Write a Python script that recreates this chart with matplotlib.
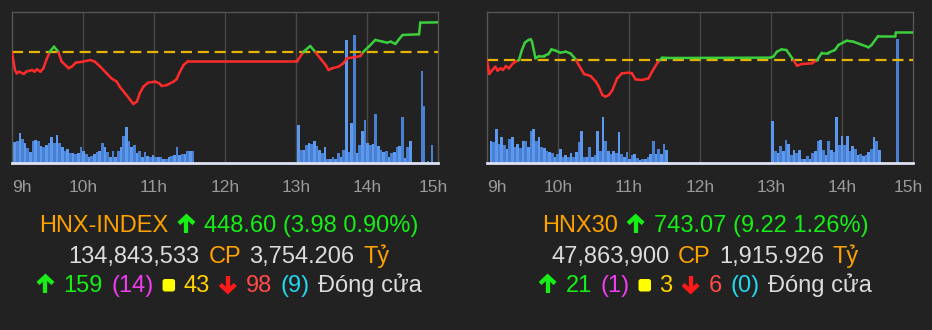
import numpy as np
import matplotlib
matplotlib.use('Agg')
import matplotlib.pyplot as plt
import matplotlib.transforms as mtrans
from matplotlib.collections import LineCollection
from matplotlib.lines import Line2D
from matplotlib.patches import FancyBboxPatch

plt.rcParams['font.family'] = ['Liberation Sans', 'DejaVu Sans']

BG = '#222222'
GREEN_LINE = '#3ccf3c'
RED_LINE = '#ff2b2b'
BAR1 = '#5c98ee'
BAR2 = '#4a80d2'
ORANGE = '#ffa200'
GREEN = '#16ee16'
GRAYTXT = '#dcdcdc'
MAGENTA = '#f03cf0'
YELLOW = '#ffd200'
SQUARE = '#ffff00'
RED = '#ff1a1a'
RED2 = '#ff4a4a'
CYAN = '#22d8ee'

hours = ['9h', '10h', '11h', '12h', '13h', '14h', '15h']
bar_step = 2.25  # minutes per volume bar

# ---- HNX-INDEX (minutes after 9:00, points) ----
hnx_ref = 444.62
hnx_t = [0, 2.5, 4, 6, 10, 12, 17, 19, 21, 24, 26.5, 29, 32, 35.5, 39, 42, 45, 48, 50.5, 54,
         60, 66, 70, 74.5, 80, 84, 88.5, 91, 95.5, 100, 102.5, 105.5, 108, 111, 115, 121, 124.5, 126.5, 131, 136.5,
         139, 142, 145, 149, 241, 243.5, 246.5, 252, 256, 260.5, 265, 267.5, 270.5, 276, 280, 283, 289, 294.5, 297, 301.5,
         307, 313, 317, 320, 324, 327, 330, 344, 345, 360]
hnx_v = [444.62, 442.27, 441.83, 442.05, 441.74, 442.05, 442.27, 442.05, 442.36, 442.05,
         442.50, 443.60, 444.71, 445.37, 444.71, 443.38, 442.94, 442.50, 442.72, 443.25,
         443.38, 443.60, 443.38, 442.72, 441.83, 441.17, 440.73, 440.06, 439.18, 438.29,
         437.76, 438.07, 439.18, 440.06, 440.59, 440.73, 440.50, 440.15, 440.28, 440.73,
         441.04, 442.05, 442.94, 443.47, 443.47, 444.04, 444.71, 445.46, 444.71, 443.82,
         442.94, 442.27, 442.50, 442.72, 443.16, 443.82, 443.96, 444.13, 444.71, 445.37,
         446.26, 446.04, 445.90, 446.04, 445.73, 446.35, 446.92, 447.01, 448.56, 448.60]
hnx_am_start, hnx_pm_start = 1.0, 241.0
hnx_vol_am = [62, 67, 89, 72, 59, 45, 32, 67, 69, 65, 52, 49, 55, 59, 77, 59, 85, 59, 47, 35,
              42, 30, 30, 27, 30, 49, 37, 27, 19, 22, 27, 32, 35, 59, 49, 32, 19, 35, 17, 35,
              47, 82, 109, 65, 47, 55, 29, 35, 17, 32, 22, 19, 24, 17, 19, 17, 12, 12, 19, 22,
              25, 49, 25, 27, 27, 37, 35, 37]
hnx_vol_pm = [113, 40, 38, 55, 60, 58, 65, 50, 38, 30, 48, 12, 12, 17, 12, 30, 18, 40, 370, 32,
              120, 383, 30, 55, 95, 130, 60, 55, 58, 148, 50, 40, 32, 35, 18, 30, 32, 48, 52, 138,
              15, 48, 65]
hnx_late_t = [345.3, 347.0, 350.4, 353.8]
hnx_late_v = [275, 170, 5, 55]

# ---- HNX30 ----
hnx30_ref = 733.85
hnx30_t = [0, 2, 4.5, 7, 9, 11.5, 13.5, 16, 18.5, 21.5, 24, 27, 29.5, 32, 35, 37, 38, 41, 44, 48,
           52, 54.5, 58, 62, 66.5, 70.5, 75, 77.5, 82, 87.5, 92, 94.5, 97.5, 100, 103, 106, 110, 114, 120, 122.5,
           125.5, 131, 136.5, 139.5, 144, 148, 153.5, 239.5, 242, 245, 249, 253, 256, 259, 262, 266, 274.5, 279, 283, 288.5,
           294, 297, 304, 309.5, 315, 322.5, 325, 330.5, 345, 345.5, 360]
hnx30_v = [733.85, 729.35, 730.67, 731.76, 730.45, 731.22, 730.67, 731.98, 731.22, 732.64,
           733.41, 733.96, 737.25, 739.67, 740.55, 740.77, 740.00, 734.51, 735.28, 735.28,
           735.94, 737.47, 737.03, 736.37, 736.70, 736.15, 734.18, 732.31, 729.35, 728.69,
           726.82, 725.18, 722.43, 721.89, 722.43, 724.08, 727.92, 729.57, 729.79, 729.57,
           727.59, 727.38, 727.92, 730.12, 733.08, 734.73, 734.62, 734.73, 735.06, 736.70,
           737.47, 737.25, 735.61, 733.96, 732.09, 732.64, 732.86, 733.96, 736.37, 736.37,
           737.25, 738.90, 740.33, 740.00, 739.23, 738.13, 738.90, 741.86, 741.86, 743.07, 743.07]
hnx30_am_start, hnx30_pm_start = 2.3, 240.3
hnx30_vol_am = [67, 62, 102, 57, 79, 55, 42, 72, 79, 49, 57, 45, 67, 67, 47, 97, 102, 67, 79, 49,
                45, 37, 32, 29, 19, 27, 42, 19, 25, 17, 29, 19, 32, 62, 97, 17, 19, 49, 17, 25,
                97, 37, 139, 67, 37, 27, 35, 29, 92, 27, 19, 32, 12, 24, 27, 15, 9, 12, 12, 17,
                27, 67, 27, 42, 27, 57, 39]
hnx30_vol_pm = [125, 35, 30, 52, 35, 70, 58, 25, 40, 30, 38, 12, 12, 22, 12, 30, 35, 65, 70, 38,
                25, 65, 40, 32, 137, 55, 80, 55, 82, 35, 52, 42, 25, 28, 22, 25, 32, 42, 77, 65, 40]
hnx30_late_t = [345.5]
hnx30_late_v = [372]

# summary text rows: (text, colour, kind)  kind: t=text, up/down=arrow, sq=square
hnx_rows = [
    [('HNX-INDEX', ORANGE, 't'), ('', GREEN, 'up'), ('448.60 (3.98 0.90%)', GREEN, 't')],
    [('134,843,533', GRAYTXT, 't'), ('CP', ORANGE, 't'), ('3,754.206', GRAYTXT, 't'), ('Tỷ', ORANGE, 't')],
    [('', GREEN, 'up'), ('159', GREEN, 't'), ('(14)', MAGENTA, 't'), ('', SQUARE, 'sq'), ('43', YELLOW, 't'),
     ('', RED, 'down'), ('98', RED2, 't'), ('(9)', CYAN, 't'), ('Đóng cửa', GRAYTXT, 't')],
]
hnx30_rows = [
    [('HNX30', ORANGE, 't'), ('', GREEN, 'up'), ('743.07 (9.22 1.26%)', GREEN, 't')],
    [('47,863,900', GRAYTXT, 't'), ('CP', ORANGE, 't'), ('1,915.926', GRAYTXT, 't'), ('Tỷ', ORANGE, 't')],
    [('', GREEN, 'up'), ('21', GREEN, 't'), ('(1)', MAGENTA, 't'), ('', SQUARE, 'sq'), ('3', YELLOW, 't'),
     ('', RED, 'down'), ('6', RED2, 't'), ('(0)', CYAN, 't'), ('Đóng cửa', GRAYTXT, 't')],
]

W, H = 932, 330
fig = plt.figure(figsize=(W / 100, H / 100), dpi=100, facecolor=BG)


def colored_segments(t, v, ref):
    xs, ys = [t[0]], [v[0]]
    for i in range(1, len(t)):
        a, b = v[i - 1] - ref, v[i] - ref
        if a * b < 0:
            f = a / (a - b)
            xs.append(t[i - 1] + f * (t[i] - t[i - 1]))
            ys.append(ref)
        xs.append(t[i])
        ys.append(v[i])
    pts = np.column_stack([xs, ys])
    segs = np.stack([pts[:-1], pts[1:]], axis=1)
    mids = (pts[:-1, 1] + pts[1:, 1]) / 2
    cols = [GREEN_LINE if m >= ref else RED_LINE for m in mids]
    return segs, cols


def panel(x0, t, v, ref, ylim, am_start, vol_am, pm_start, vol_pm, late_t, late_v):
    rect = [x0 / W, (H - 163) / H, 426 / W, 151 / H]
    axv = fig.add_axes(rect)
    axv.set_facecolor(BG)
    for i in range(1, 6):
        axv.axvline(i * 60, color='#474747', lw=1, zorder=0)
    for start, vols in [(am_start, vol_am), (pm_start, vol_pm)]:
        xs = start + np.arange(len(vols)) * bar_step
        cols = [BAR1 if i % 2 == 0 else BAR2 for i in range(len(vols))]
        axv.bar(xs, vols, width=bar_step, align='edge', color=cols, linewidth=0, zorder=2)
    axv.bar(late_t, late_v, width=bar_step, align='edge', color=BAR2, linewidth=0, zorder=2)
    axv.set_xlim(0, 360)
    axv.set_ylim(0, 453)
    axv.axis('off')

    ax = fig.add_axes(rect)
    ax.patch.set_visible(False)
    ax.set_xlim(0, 360)
    ax.set_ylim(*ylim)
    ax.axhline(ref, color='#e8b400', lw=1.6, dashes=(5, 2.6), zorder=3)
    segs, cols = colored_segments(t, v, ref)
    ax.add_collection(LineCollection(segs, colors=cols, linewidths=1.8, capstyle='round',
                                     joinstyle='round', zorder=4))
    ax.set_xticks([])
    ax.set_yticks([])
    for s in ['left', 'top', 'right']:
        ax.spines[s].set_color('#555555')
        ax.spines[s].set_linewidth(1)
    ax.spines['bottom'].set_color('#dfe2f2')
    ax.spines['bottom'].set_linewidth(2)

    trans = mtrans.blended_transform_factory(ax.transData, fig.transFigure)
    ty = 1 - 188 / H
    for i, lab in enumerate(hours):
        if i == 0:
            ax.text(0, ty, lab, transform=trans, ha='left', va='center', color='#9a9a9a', fontsize=12.5)
        elif i == len(hours) - 1:
            tr = mtrans.offset_copy(trans, fig=fig, x=-5, y=0, units='dots')
            ax.text(360, ty, lab, transform=tr, ha='center', va='center', color='#9a9a9a', fontsize=12.5)
        else:
            ax.text(i * 60, ty, lab, transform=trans, ha='center', va='center', color='#9a9a9a', fontsize=12.5)
    return ax


panel(12, hnx_t, hnx_v, hnx_ref, (429.93, 449.97), hnx_am_start, hnx_vol_am,
      hnx_pm_start, hnx_vol_pm, hnx_late_t, hnx_late_v)
panel(487, hnx30_t, hnx30_v, hnx30_ref, (700.04, 749.77), hnx30_am_start, hnx30_vol_am,
      hnx30_pm_start, hnx30_vol_pm, hnx30_late_t, hnx30_late_v)

renderer = fig.canvas.get_renderer()
ident = mtrans.IdentityTransform()
gap = 8.5


def draw_arrow(x, base_y, color, up):
    # x: left pixel, base_y: baseline pixel measured from top
    w, h = 19, 17
    cx = x + w / 2
    bot = H - base_y - 0.5
    top = bot + h
    lw = 4.3 * 72 / 100
    if up:
        shaft = ([cx, cx], [bot, top - 2])
        head = ([cx - 7.5, cx, cx + 7.5], [top - 8, top - 1, top - 8])
    else:
        shaft = ([cx, cx], [top, bot + 2])
        head = ([cx - 7.5, cx, cx + 7.5], [bot + 8, bot + 1, bot + 8])
    for xs, ys in (shaft, head):
        fig.add_artist(Line2D(xs, ys, transform=ident, color=color, lw=lw,
                              solid_capstyle='butt', solid_joinstyle='miter'))


def draw_row(cx, base_y, parts):
    items = []
    for s, c, kind in parts:
        if kind == 't':
            txt = fig.text(0, 1 - base_y / H, s, color=c, fontsize=17, va='baseline', ha='left')
            items.append((kind, c, txt, txt.get_window_extent(renderer).width))
        elif kind in ('up', 'down'):
            items.append((kind, c, None, 19))
        else:
            items.append((kind, c, None, 13))
    total = sum(it[3] for it in items) + gap * (len(items) - 1)
    x = cx - total / 2
    for kind, c, txt, w in items:
        if kind == 't':
            txt.set_x(x / W)
        elif kind in ('up', 'down'):
            draw_arrow(x, base_y, c, kind == 'up')
        else:
            fig.add_artist(FancyBboxPatch((x + 0.5, H - base_y + 0.5), 12.5, 12.5,
                                          boxstyle='round,pad=0,rounding_size=2.5',
                                          transform=ident, facecolor=c, edgecolor='none'))
        x += w + gap


for rows, cx in [(hnx_rows, 229), (hnx30_rows, 705)]:
    for parts, by in zip(rows, [232, 263, 292]):
        draw_row(cx, by, parts)

fig.savefig('out.png', dpi=100, facecolor=BG)
